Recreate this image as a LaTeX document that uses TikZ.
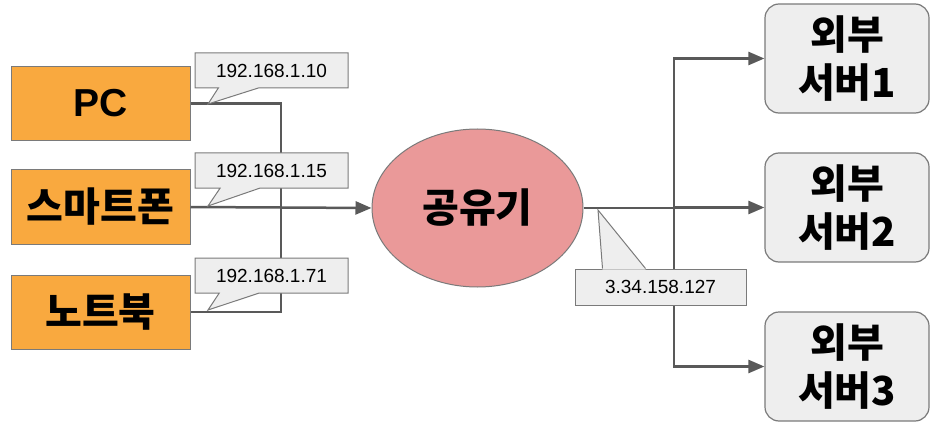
\documentclass[tikz,border=0pt]{standalone}
\usepackage{fontspec}
\setmainfont{Liberation Sans}
\newfontfamily\krfont{Noto Sans CJK KR}
\usetikzlibrary{
    arrows.meta,
    calc,
    shapes.geometric,
    shapes.callouts
}
\definecolor{devorange}{HTML}{F9A93F}
\definecolor{routerred}{HTML}{EA9999}
\definecolor{paleGray}{HTML}{EEEEEE}
\definecolor{wireGray}{HTML}{595959}
\definecolor{rimGray}{HTML}{7A7A7A}
\tikzset{
  device/.style={
    draw=rimGray,
    line width=1pt,
    fill=devorange,
    minimum width=179pt,
    minimum height=74pt,
    inner sep=0pt,
    font=\krfont\bfseries\fontsize{40}{46}\selectfont
  },
  router/.style={
    ellipse,
    draw=rimGray,
    line width=1pt,
    fill=routerred,
    minimum width=211pt,
    minimum height=158pt,
    inner sep=0pt,
    font=\krfont\bfseries\fontsize{40}{46}\selectfont
  },
  server/.style={
    draw=rimGray,
    line width=1.2pt,
    fill=paleGray,
    rounded corners=14pt,
    minimum width=164pt,
    minimum height=109pt,
    inner sep=0pt,
    align=center,
    font=\krfont\bfseries\fontsize{40}{48}\selectfont
  },
  ipbox/.style={
    draw=rimGray,
    line width=1pt,
    fill=paleGray,
    minimum width=153pt,
    minimum height=35pt,
    inner sep=0pt,
    font=\fontsize{19}{22}\selectfont
  },
  ipnote/.style={
    ipbox,
    rectangle callout,
    callout pointer width=40pt
  },
  wire/.style={
    draw=wireGray,
    line width=2.5pt
  },
  feed/.style={
    wire,
    -{Triangle[length=16pt,width=13pt]}
  }
}

\begin{document}
\begin{tikzpicture}[x=1pt,y=-1pt]
\useasboundingbox (0,0) rectangle (940,425);
% devices on the left
\node[device] (pc) at (100.5,103.5) {\rmfamily\bfseries\fontsize{39}{46}\selectfont PC};
\node[device] (phone) at (100.5,207) {스마트폰};
\node[device] (laptop) at (100.5,312) {노트북};
% the router
\node[router] (hub) at (477.5,208) {공유기};
% servers on the right
\foreach \srv/\ypos in {1/58.5,2/207.5,3/366.5} {
  \node[server] (srv\srv) at (847,\ypos) {외부\\서버\srv};
}
\coordinate (bus) at (281,208);
\coordinate (fork) at (674,208);
\draw[wire] (pc.east) -| (bus) |- (laptop.east);
\draw[feed] (phone.east) -- (hub.west);
\draw[wire] (hub.east) -- (fork);
\foreach \srv in {1,2,3} {
  \draw[feed] (fork) |- (srv\srv.west);
}
% address notes
\coordinate (tip1) at (208,104);
\coordinate (tip2) at (208,206);
\coordinate (tip3) at (208,310);
\coordinate (tipr) at (598,210);
\node[ipnote, callout absolute pointer=(tip1)] (ip1) at (271.5,70.5) {192.168.1.10};
\node[ipnote, callout absolute pointer=(tip2)] (ip2) at (271.5,170.5) {192.168.1.15};
\node[ipnote, callout absolute pointer=(tip3)] (ip3) at (271.5,275.5) {192.168.1.71};
\node[ipbox, minimum width=171pt, minimum height=36pt] (ipr) at (660.5,287) {3.34.158.127};
\fill[paleGray] ($(ipr.north west)+(28,1)$) -- (tipr) -- ($(ipr.north west)+(71,1)$) -- cycle;
\draw[rimGray, line width=1pt] ($(ipr.north west)+(28,0)$) -- (tipr) -- ($(ipr.north west)+(71,0)$);
\end{tikzpicture}
\end{document}
